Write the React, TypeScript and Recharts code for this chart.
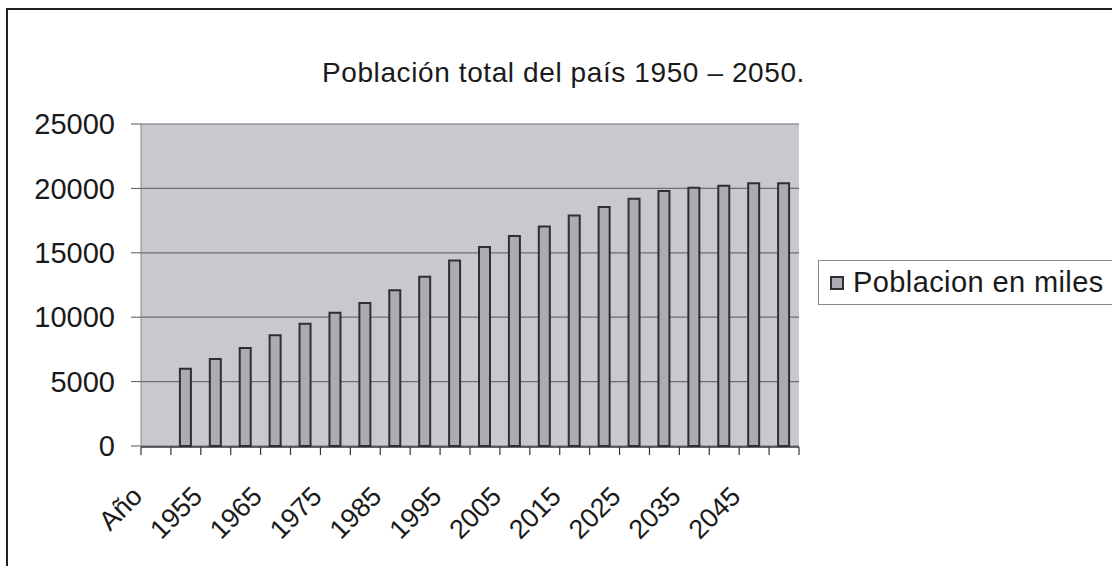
import { BarChart, Bar, XAxis, YAxis, CartesianGrid } from 'recharts'

const years = [
  'Año', '1950', '1955', '1960', '1965', '1970', '1975', '1980', '1985', '1990', '1995',
  '2000', '2005', '2010', '2015', '2020', '2025', '2030', '2035', '2040', '2045', '2050',
]

// poblacion en miles, no value for the "Año" header column
const poblacion = [
  null, 6000, 6750, 7600, 8600, 9500, 10350, 11100, 12100, 13150, 14400,
  15450, 16300, 17050, 17900, 18550, 19200, 19800, 20050, 20200, 20400, 20400,
]

const yTicks = [0, 5000, 10000, 15000, 20000, 25000]

const seriesName = 'Poblacion en miles'
const title = 'Población total del país 1950 – 2050.'

const FONT = '"Liberation Sans", Arial, sans-serif'
const BAR_FILL = '#ababb4'
const BAR_STROKE = '#2e2e34'

const data = years.map((year, i) => ({ year, poblacion: poblacion[i] }))

// eslint-disable-next-line @typescript-eslint/no-explicit-any
const YearTick = ({ x, y, payload }: any) => {
  const tx = x - 12
  const ty = y + 52
  return (
    <text
      x={tx}
      y={ty}
      transform={`rotate(-45, ${tx}, ${ty})`}
      textAnchor="end"
      fontSize={27}
      fontFamily={FONT}
      fill="#1a1a1a"
    >
      {payload.value}
    </text>
  )
}

// Excel style tick marks sit between the categories, not under them
// eslint-disable-next-line @typescript-eslint/no-explicit-any
const EdgeTick = ({ x, y, payload }: any) => {
  const half = payload.offset || 0
  const last = payload.index === years.length - 1
  return (
    <g stroke="#333" strokeWidth={1.2}>
      <line x1={x - half} x2={x - half} y1={y} y2={y + 8} />
      {last && <line x1={x + half} x2={x + half} y1={y} y2={y + 8} />}
    </g>
  )
}

const LegendBox = () => (
  <div
    style={{
      position: 'absolute',
      left: 818,
      top: 260,
      width: 320,
      display: 'flex',
      alignItems: 'center',
      height: 45,
      border: '1px solid #8a8a8a',
      borderRight: 'none',
      paddingLeft: 11,
      boxSizing: 'border-box',
      fontFamily: FONT,
      fontSize: 29,
      letterSpacing: 0.4,
      color: '#1a1a1a',
      background: '#fff',
    }}
  >
    <span
      style={{
        display: 'inline-block',
        width: 10,
        height: 10,
        background: BAR_FILL,
        border: `2px solid ${BAR_STROKE}`,
        marginRight: 9,
      }}
    />
    <span>{seriesName}</span>
  </div>
)

export default function App() {
  return (
    <div
      style={{
        position: 'fixed',
        top: 0,
        left: 0,
        width: 1112,
        height: 566,
        overflow: 'hidden',
        background: '#fff',
      }}
    >
      <div
        style={{
          position: 'absolute',
          left: 6,
          top: 8,
          width: 1200,
          height: 700,
          borderLeft: '2px solid #222',
          borderTop: '2px solid #222',
        }}
      />
      <div
        style={{
          position: 'absolute',
          left: 322,
          top: 57,
          fontFamily: FONT,
          fontSize: 28,
          letterSpacing: 0.6,
          color: '#1a1a1a',
          whiteSpace: 'nowrap',
        }}
      >
        {title}
      </div>
      <BarChart
        width={1112}
        height={566}
        data={data}
        margin={{ top: 124, right: 313, bottom: 118, left: 0 }}
        style={{ position: 'absolute', top: 0, left: 0 }}
      >
        <CartesianGrid
          xAxisId="cat"
          vertical={false}
          fill="#c8c8cf"
          stroke="#6c6c74"
          strokeWidth={1.2}
        />
        <XAxis
          xAxisId="edge"
          dataKey="year"
          height={1}
          interval={0}
          tickLine={false}
          tickSize={0}
          tickMargin={0}
          tick={<EdgeTick />}
          axisLine={{ stroke: '#333', strokeWidth: 1.5 }}
        />
        <XAxis
          xAxisId="cat"
          dataKey="year"
          height={1}
          interval={1}
          axisLine={false}
          tickLine={false}
          tickSize={0}
          tickMargin={0}
          tick={<YearTick />}
        />
        <YAxis
          width={141}
          domain={[0, 25000]}
          ticks={yTicks}
          tickSize={10}
          tickMargin={16}
          axisLine={{ stroke: '#8a8a8a' }}
          tickLine={{ stroke: '#555' }}
          tick={{ fontSize: 29, fontFamily: FONT, fill: '#1a1a1a' }}
        />
        <Bar
          xAxisId="cat"
          dataKey="poblacion"
          name={seriesName}
          fill={BAR_FILL}
          stroke={BAR_STROKE}
          strokeWidth={2}
          barSize={11}
          isAnimationActive={false}
        />
      </BarChart>
      <LegendBox />
    </div>
  )
}
